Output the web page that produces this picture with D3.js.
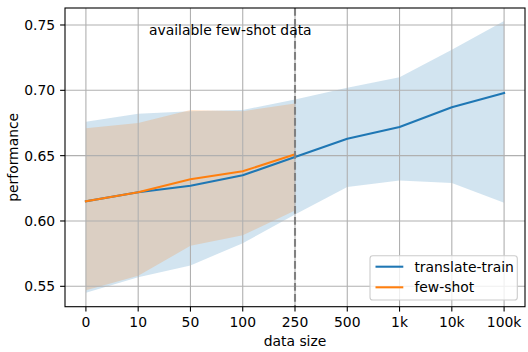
<!DOCTYPE html>
<html><head><meta charset="utf-8">
<script src="https://cdn.jsdelivr.net/npm/d3@7"></script>
<style>body{margin:0;background:#fff}text{font-family:"DejaVu Sans",sans-serif}</style>
</head><body><svg id="c" width="528" height="352"></svg>
<script>
const categories = ["0","10","50","100","250","500","1k","10k","100k"];
const ttMean  = [0.615,0.622,0.627,0.635,0.649,0.663,0.672,0.687,0.698];
const ttUpper = [0.676,0.682,0.684,0.685,0.693,0.702,0.710,0.731,0.753];
const ttLower = [0.545,0.557,0.566,0.583,0.605,0.626,0.631,0.629,0.614];
const fsCats  = ["0","10","50","100","250"];
const fsMean  = [0.615,0.622,0.632,0.638,0.651];
const fsUpper = [0.671,0.675,0.685,0.684,0.690];
const fsLower = [0.547,0.558,0.581,0.589,0.608];
const yTicks  = [0.55,0.60,0.65,0.70,0.75];
const fewShotLimit = "250";

const L=65,R=525,T=8,B=306.7;
const svg=d3.select("#c");
const xi=d3.scaleLinear().domain([-0.4,categories.length-1+0.4]).range([L,R]);
const x=c=>xi(categories.indexOf(c));
const y=d3.scaleLinear().domain([0.5344,0.763]).range([B,T]);
const FS=13.9, LW=2.08, TW=1.1, TL=4.9;

// fills
const area=(cats,lo,hi)=>d3.area().x((d,i)=>x(cats[i])).y0((d,i)=>y(lo[i])).y1((d,i)=>y(hi[i]))(cats);
svg.append("path").attr("d",area(categories,ttLower,ttUpper)).attr("fill","#1f77b4").attr("fill-opacity",0.2);
svg.append("path").attr("d",area(fsCats,fsLower,fsUpper)).attr("fill","#ff7f0e").attr("fill-opacity",0.2);

// grid
const g=svg.append("g");
categories.forEach(c=>g.append("line").attr("x1",x(c)).attr("x2",x(c)).attr("y1",T).attr("y2",B).attr("stroke","#b0b0b0").attr("stroke-width",TW));
yTicks.forEach(v=>g.append("line").attr("x1",L).attr("x2",R).attr("y1",y(v)).attr("y2",y(v)).attr("stroke","#b0b0b0").attr("stroke-width",TW));

// lines
const line=(cats,vals)=>d3.line().x((d,i)=>x(cats[i])).y((d,i)=>y(vals[i]))(cats);
svg.append("path").attr("d",line(categories,ttMean)).attr("fill","none").attr("stroke","#1f77b4").attr("stroke-width",LW).attr("stroke-linejoin","round").attr("stroke-linecap","square");
svg.append("path").attr("d",line(fsCats,fsMean)).attr("fill","none").attr("stroke","#ff7f0e").attr("stroke-width",LW).attr("stroke-linejoin","round").attr("stroke-linecap","square");

// dashed limit line
svg.append("line").attr("x1",x(fewShotLimit)).attr("x2",x(fewShotLimit)).attr("y1",T).attr("y2",B)
  .attr("stroke","#808080").attr("stroke-width",LW).attr("stroke-dasharray","7.7,3.3");

svg.append("text").attr("x",149).attr("y",35).attr("font-size",FS).text("available few-shot data");

// spines
svg.append("rect").attr("x",L).attr("y",T).attr("width",R-L).attr("height",B-T).attr("fill","none").attr("stroke","#000").attr("stroke-width",TW);

// x axis
const xa=svg.append("g");
categories.forEach(c=>{
  xa.append("line").attr("x1",x(c)).attr("x2",x(c)).attr("y1",B).attr("y2",B+TL).attr("stroke","#000").attr("stroke-width",TW);
  xa.append("text").attr("x",x(c)).attr("y",B+20.3).attr("text-anchor","middle").attr("font-size",FS).text(c);
});
svg.append("text").attr("x",(L+R)/2).attr("y",346.3).attr("text-anchor","middle").attr("font-size",FS).text("data size");

// y axis
yTicks.forEach(v=>{
  svg.append("line").attr("x1",L-TL).attr("x2",L).attr("y1",y(v)).attr("y2",y(v)).attr("stroke","#000").attr("stroke-width",TW);
  svg.append("text").attr("x",L-2*TL).attr("y",y(v)).attr("dy","0.36em").attr("text-anchor","end").attr("font-size",FS).text(v.toFixed(2));
});
svg.append("text").attr("transform",`translate(18.3,${(T+B)/2}) rotate(-90)`).attr("text-anchor","middle").attr("font-size",FS).text("performance");

// legend
const lg=svg.append("g");
lg.append("rect").attr("x",370).attr("y",255.7).attr("width",147.3).attr("height",44.3).attr("rx",2.8)
  .attr("fill","#fff").attr("fill-opacity",0.8).attr("stroke","#cccccc").attr("stroke-width",TW);
[["translate-train","#1f77b4",266.7],["few-shot","#ff7f0e",287.3]].forEach(([t,c,yy])=>{
  lg.append("line").attr("x1",375.5).attr("x2",403.3).attr("y1",yy).attr("y2",yy).attr("stroke",c).attr("stroke-width",LW);
  lg.append("text").attr("x",414.4).attr("y",yy).attr("dy","0.36em").attr("font-size",FS).text(t);
});
</script></body></html>
